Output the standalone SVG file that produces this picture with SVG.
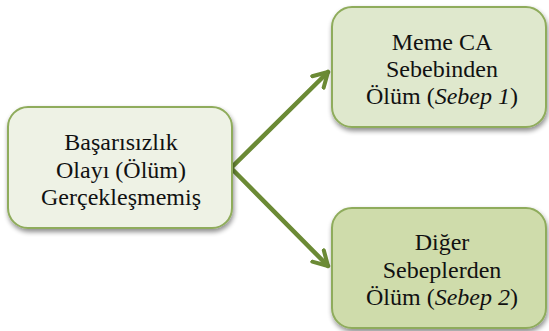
<svg xmlns="http://www.w3.org/2000/svg" width="549" height="331" viewBox="0 0 549 331">
<defs>
<filter id="sh" x="-10%" y="-10%" width="130%" height="130%">
<feGaussianBlur in="SourceAlpha" stdDeviation="2.5"/>
<feOffset dx="1" dy="3" result="b"/>
<feComponentTransfer><feFuncA type="linear" slope="0.45"/></feComponentTransfer>
<feMerge><feMergeNode/><feMergeNode in="SourceGraphic"/></feMerge>
</filter>
<marker id="ah" viewBox="0 0 10 10" refX="8" refY="5" markerWidth="4.5" markerHeight="4.5" markerUnits="strokeWidth" orient="auto">
<path d="M1,1 L8,5 L1,9" fill="none" stroke="#6b8a35" stroke-width="2" stroke-linecap="round" stroke-linejoin="round"/>
</marker>
<style>
.box{stroke:#8fac5c;stroke-width:2;filter:url(#sh)}
.conn{stroke:#6b8a35;stroke-width:4.5;fill:none;stroke-linecap:round}
</style>
</defs>
<g id="connectors">
<path class="conn" d="M231,168 L328,72" marker-end="url(#ah)"/>
<path class="conn" d="M231,168 L328,266" marker-end="url(#ah)"/>
</g>
<g id="node-left">
<rect class="box" x="8" y="107" width="224" height="121" rx="20" fill="#eef2e5"/>
<text x="121" y="150" font-family="'Liberation Serif', serif" font-size="24" fill="#111" text-anchor="middle">Başarısızlık</text>
<text x="121" y="178" font-family="'Liberation Serif', serif" font-size="24" fill="#111" text-anchor="middle">Olayı (Ölüm)</text>
<text x="121" y="205" font-family="'Liberation Serif', serif" font-size="24" fill="#111" text-anchor="middle">Gerçekleşmemiş</text>
</g>
<g id="node-top">
<rect class="box" x="332" y="7" width="214" height="120" rx="20" fill="#dfe8cd"/>
<text x="442" y="50" font-family="'Liberation Serif', serif" font-size="24" fill="#111" text-anchor="middle">Meme CA</text>
<text x="442" y="77" font-family="'Liberation Serif', serif" font-size="24" fill="#111" text-anchor="middle">Sebebinden</text>
<text x="442" y="104" font-family="'Liberation Serif', serif" font-size="24" fill="#111" text-anchor="middle">Ölüm (<tspan font-style="italic">Sebep 1</tspan>)</text>
</g>
<g id="node-bottom">
<rect class="box" x="332" y="208" width="214" height="120" rx="20" fill="#cfdcab"/>
<text x="442" y="250" font-family="'Liberation Serif', serif" font-size="24" fill="#111" text-anchor="middle">Diğer</text>
<text x="442" y="278" font-family="'Liberation Serif', serif" font-size="24" fill="#111" text-anchor="middle">Sebeplerden</text>
<text x="442" y="305" font-family="'Liberation Serif', serif" font-size="24" fill="#111" text-anchor="middle">Ölüm (<tspan font-style="italic">Sebep 2</tspan>)</text>
</g>
</svg>
